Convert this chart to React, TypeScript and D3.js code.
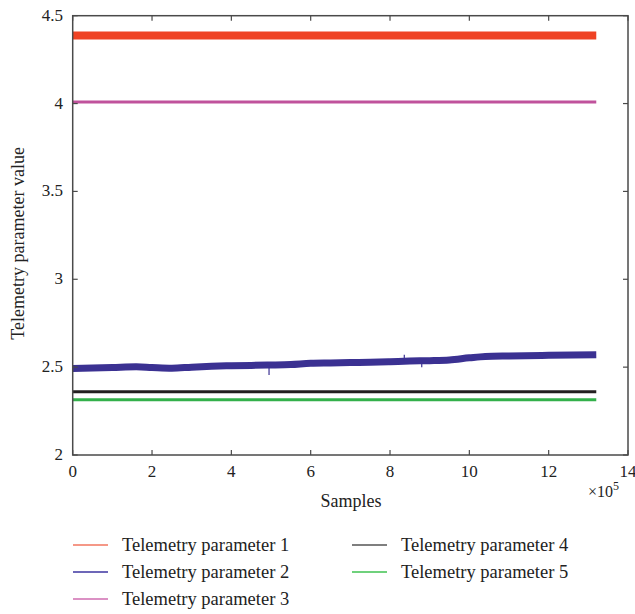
import React from "react";
import * as d3 from "d3";

const xTicks = [0, 2, 4, 6, 8, 10, 12, 14];
const yTicks = [2, 2.5, 3, 3.5, 4, 4.5];
const yTickLabels = ["2", "2.5", "3", "3.5", "4", "4.5"];

const seriesNames = [
  "Telemetry parameter 1",
  "Telemetry parameter 2",
  "Telemetry parameter 3",
  "Telemetry parameter 4",
  "Telemetry parameter 5",
];
const seriesColors = ["#ef4224", "#3b3192", "#c0529c", "#231f20", "#33b04a"];
const legendColors = ["#f2765f", "#3d35a0", "#cf6cb0", "#555555", "#3fc250"];

// x in units of 1e5 samples
const param1 = [
  [0, 4.387],
  [13.2, 4.387],
];
const param2 = [
  [0, 2.492],
  [0.5, 2.495],
  [1, 2.498],
  [1.6, 2.502],
  [2.0, 2.498],
  [2.5, 2.494],
  [3, 2.5],
  [3.5, 2.505],
  [4, 2.508],
  [4.5, 2.51],
  [5.0, 2.512],
  [5.5, 2.515],
  [6.0, 2.522],
  [6.5, 2.524],
  [7, 2.526],
  [7.5, 2.528],
  [8, 2.531],
  [8.5, 2.535],
  [9, 2.537],
  [9.5, 2.541],
  [10, 2.553],
  [10.4, 2.561],
  [11, 2.564],
  [12, 2.567],
  [13.2, 2.57],
];
const param2Spikes = [
  [4.95, 2.512, 2.455],
  [8.36, 2.533, 2.57],
  [8.8, 2.536, 2.5],
];
const param3 = [
  [0, 4.009],
  [13.2, 4.009],
];
const param4 = [
  [0, 2.36],
  [13.2, 2.36],
];
const param5 = [
  [0, 2.315],
  [13.2, 2.315],
];

const seriesData = [param1, param2, param3, param4, param5];
const seriesWidths = [8, 7, 3, 3, 3];

export default function App() {
  const W = 635;
  const H = 614;
  const left = 72.7;
  const right = 628;
  const top = 15.7;
  const bottom = 455;
  const x = d3.scaleLinear().domain([0, 14]).range([left, right]);
  const y = d3.scaleLinear().domain([2, 4.5]).range([bottom, top]);
  const line = d3
    .line<number[]>()
    .x((d) => x(d[0]))
    .y((d) => y(d[1]))
    .curve(d3.curveMonotoneX);
  const axisColor = "#4a4a4a";
  const font = "Liberation Serif, DejaVu Serif, serif";
  const tickLen = 5;
  const drawOrder = [0, 2, 1, 3, 4];

  const legendRows = [
    { i: 0, lx: 73, ty: 551 },
    { i: 1, lx: 73, ty: 578 },
    { i: 2, lx: 73, ty: 605 },
    { i: 3, lx: 352, ty: 551 },
    { i: 4, lx: 352, ty: 578 },
  ];

  return (
    <svg
      width={W}
      height={H}
      style={{ position: "absolute", left: 0, top: 0, background: "#fff" }}
    >
      {drawOrder.map((i) => (
        <path
          key={i}
          d={line(seriesData[i] as number[][]) || ""}
          fill="none"
          stroke={seriesColors[i]}
          strokeWidth={seriesWidths[i]}
        />
      ))}
      {param2Spikes.map((s, k) => (
        <line
          key={k}
          x1={x(s[0])}
          x2={x(s[0])}
          y1={y(s[1])}
          y2={y(s[2])}
          stroke={seriesColors[1]}
          strokeWidth={1.2}
        />
      ))}
      <rect
        x={left}
        y={top}
        width={right - left}
        height={bottom - top}
        fill="none"
        stroke={axisColor}
        strokeWidth={1.5}
      />
      {xTicks.map((t) => (
        <g key={"x" + t}>
          <line x1={x(t)} x2={x(t)} y1={bottom} y2={bottom - tickLen} stroke={axisColor} strokeWidth={1.2} />
          <line x1={x(t)} x2={x(t)} y1={top} y2={top + tickLen} stroke={axisColor} strokeWidth={1.2} />
          <text x={x(t)} y={477} textAnchor="middle" fontSize={17} fill="#222" fontFamily={font}>
            {t}
          </text>
        </g>
      ))}
      {yTicks.map((t, k) => (
        <g key={"y" + t}>
          <line x1={left} x2={left + tickLen} y1={y(t)} y2={y(t)} stroke={axisColor} strokeWidth={1.2} />
          <line x1={right} x2={right - tickLen} y1={y(t)} y2={y(t)} stroke={axisColor} strokeWidth={1.2} />
          <text x={63} y={y(t) + 5} textAnchor="end" fontSize={17} fill="#222" fontFamily={font}>
            {yTickLabels[k]}
          </text>
        </g>
      ))}
      <text x={351} y={507} textAnchor="middle" fontSize={18} fill="#222" fontFamily={font}>
        Samples
      </text>
      <text x={588} y={497} fontSize={16} fill="#222" fontFamily={font}>
        ×10
        <tspan dy={-7} fontSize={12}>
          5
        </tspan>
      </text>
      <text
        transform={`translate(24, ${(top + bottom) / 2 + 8}) rotate(-90)`}
        textAnchor="middle"
        fontSize={18}
        fill="#222"
        fontFamily={font}
      >
        Telemetry parameter value
      </text>
      {legendRows.map((r) => (
        <g key={"l" + r.i}>
          <line x1={r.lx} x2={r.lx + 35} y1={r.ty - 6} y2={r.ty - 6} stroke={legendColors[r.i]} strokeWidth={1.6} />
          <text x={r.lx + 49} y={r.ty} fontSize={18.5} fill="#222" fontFamily={font}>
            {seriesNames[r.i]}
          </text>
        </g>
      ))}
    </svg>
  );
}
